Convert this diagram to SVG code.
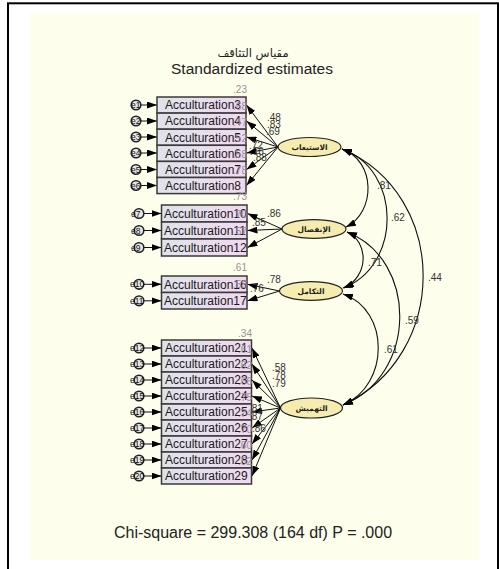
<svg xmlns="http://www.w3.org/2000/svg" width="499" height="569" viewBox="0 0 499 569">
<defs>
<linearGradient id="boxfill" x1="0" y1="0" x2="1" y2="0">
<stop offset="0" stop-color="#dfe3ea"/>
<stop offset="1" stop-color="#f1d9f0"/>
</linearGradient>
<marker id="ah" markerUnits="userSpaceOnUse" markerWidth="10" markerHeight="7" refX="10" refY="3.5" orient="auto-start-reverse">
<path d="M0,0 L10,3.5 L0,7 z" fill="#000"/>
</marker>
<style>
.box{fill:url(#boxfill);stroke:#3a3a3a;stroke-width:1.5}
.bt{font-family:"Liberation Sans",Arial,sans-serif;font-size:12px;fill:#1a1a1a}
.r2{font-family:"Liberation Sans",Arial,sans-serif;font-size:10px;fill:#9a8f9a;text-anchor:end}
.lab{font-family:"Liberation Sans",Arial,sans-serif;font-size:10px;fill:#333}
.err{fill:#e8e8e8;stroke:#222;stroke-width:1.6}
.et{font-family:"Liberation Sans",Arial,sans-serif;font-size:8.5px;fill:#111}
.lat{fill:#f7ecb0;stroke:#222;stroke-width:1.2}
.lt{font-family:"DejaVu Sans",sans-serif;font-size:7.5px;font-weight:bold;fill:#222;text-anchor:middle}
.c{fill:none;stroke:#111;stroke-width:1;marker-end:url(#ah)}
.cv{fill:none;stroke:#111;stroke-width:1.1;marker-start:url(#ah);marker-end:url(#ah)}
.ttl{font-family:"Liberation Sans",Arial,sans-serif;fill:#222;text-anchor:middle}
</style>
</defs>
<rect x="0" y="0" width="499" height="569" fill="#fff"/>
<rect x="30" y="13" width="449" height="547" fill="#fefeec"/>
<rect x="8" y="3.3" width="490" height="600" fill="none" stroke="#000" stroke-width="2"/>

<g id="titles">
<text class="ttl" x="253" y="57" style="font-family:'DejaVu Sans',sans-serif;font-size:11.5px">مقياس التثاقف</text>
<text class="ttl" x="252" y="73.5" style="font-size:15.5px">Standardized estimates</text>
<text class="ttl" x="253" y="537.5" style="font-size:16px">Chi-square = 299.308 (164 df) P = .000</text>
</g>

<g id="connectors">
<line class="c" x1="141" y1="105" x2="157" y2="105"/>
<line class="c" x1="141" y1="121" x2="157" y2="121"/>
<line class="c" x1="141" y1="137" x2="157" y2="137"/>
<line class="c" x1="141" y1="153" x2="157" y2="153"/>
<line class="c" x1="141" y1="169.5" x2="157" y2="169.5"/>
<line class="c" x1="141" y1="185.5" x2="157" y2="185.5"/>
<line class="c" x1="144" y1="213.5" x2="161.5" y2="213.5"/>
<line class="c" x1="144" y1="230.5" x2="161.5" y2="230.5"/>
<line class="c" x1="144" y1="247.5" x2="161.5" y2="247.5"/>
<line class="c" x1="144" y1="284.3" x2="161.5" y2="284.3"/>
<line class="c" x1="144" y1="300.8" x2="161.5" y2="300.8"/>
<line class="c" x1="144" y1="348" x2="161.5" y2="348"/>
<line class="c" x1="144" y1="364" x2="161.5" y2="364"/>
<line class="c" x1="144" y1="380" x2="161.5" y2="380"/>
<line class="c" x1="144" y1="396" x2="161.5" y2="396"/>
<line class="c" x1="144" y1="412" x2="161.5" y2="412"/>
<line class="c" x1="144" y1="428" x2="161.5" y2="428"/>
<line class="c" x1="144" y1="444" x2="161.5" y2="444"/>
<line class="c" x1="144" y1="460" x2="161.5" y2="460"/>
<line class="c" x1="144" y1="476" x2="161.5" y2="476"/>
<line class="c" x1="278" y1="147" x2="246.5" y2="105"/>
<line class="c" x1="278" y1="147" x2="246.5" y2="121"/>
<line class="c" x1="278" y1="147" x2="246.5" y2="137"/>
<line class="c" x1="278" y1="147" x2="246.5" y2="153"/>
<line class="c" x1="278" y1="147" x2="246.5" y2="169.5"/>
<line class="c" x1="278" y1="147" x2="246.5" y2="185.5"/>
<line class="c" x1="282" y1="229" x2="247.5" y2="213.5"/>
<line class="c" x1="282" y1="229" x2="247.5" y2="230.5"/>
<line class="c" x1="282" y1="229" x2="247.5" y2="247.5"/>
<line class="c" x1="279.5" y1="291" x2="247.5" y2="284.3"/>
<line class="c" x1="279.5" y1="291" x2="247.5" y2="300.8"/>
<line class="c" x1="280.5" y1="408" x2="252" y2="348"/>
<line class="c" x1="280.5" y1="408" x2="252" y2="364"/>
<line class="c" x1="280.5" y1="408" x2="252" y2="380"/>
<line class="c" x1="280.5" y1="408" x2="252" y2="396"/>
<line class="c" x1="280.5" y1="408" x2="252" y2="412"/>
<line class="c" x1="280.5" y1="408" x2="252" y2="428"/>
<line class="c" x1="280.5" y1="408" x2="252" y2="444"/>
<line class="c" x1="280.5" y1="408" x2="252" y2="460"/>
<line class="c" x1="280.5" y1="408" x2="252" y2="476"/>
<path class="cv" d="M342,149 C376,161 376,212 346,227"/>
<path class="cv" d="M342,149 C402,170 402,266 343,288"/>
<path class="cv" d="M342,149 C450,195 450,355 343,405"/>
<path class="cv" d="M347,232 C369,242 369,276 344,288"/>
<path class="cv" d="M347,232 C418,260 418,375 343,405"/>
<path class="cv" d="M343,294 C390,310 390,385 343,405"/>
</g>

<g id="coef-labels">
<text class="lab" x="267" y="121">.48</text>
<text class="lab" x="267" y="128">.83</text>
<text class="lab" x="266" y="135">.69</text>
<text class="lab" x="249" y="149">.72</text>
<text class="lab" x="250" y="155">.76</text>
<text class="lab" x="253" y="161">.88</text>
<text class="lab" x="267" y="217">.86</text>
<text class="lab" x="252" y="226">.85</text>
<text class="lab" x="267" y="283">.78</text>
<text class="lab" x="250" y="292">.76</text>
<text class="lab" x="272" y="371">.58</text>
<text class="lab" x="272" y="379">.78</text>
<text class="lab" x="272" y="387">.79</text>
<text class="lab" x="249" y="412">.81</text>
<text class="lab" x="249" y="420">.87</text>
<text class="lab" x="252" y="432">.86</text>
<text class="lab" x="377" y="189">.81</text>
<text class="lab" x="391" y="221">.62</text>
<text class="lab" x="428" y="281">.44</text>
<text class="lab" x="368" y="266">.71</text>
<text class="lab" x="405" y="324">.59</text>
<text class="lab" x="384" y="353">.61</text>
</g>

<g id="group-assimilation-items">
<g id="n-a3"><rect class="box" x="157" y="97" width="89" height="16.1"/><text class="r2" x="247" y="93">.23</text><text class="bt" x="165" y="109.3">Acculturation3</text></g>
<g id="n-a4"><rect class="box" x="157" y="113.1" width="89" height="16.1"/><text class="r2" x="247" y="110">.68</text><text class="bt" x="165" y="125.4">Acculturation4</text></g>
<g id="n-a5"><rect class="box" x="157" y="129.2" width="89" height="16.1"/><text class="r2" x="247" y="126">.47</text><text class="bt" x="165" y="141.5">Acculturation5</text></g>
<g id="n-a6"><rect class="box" x="157" y="145.3" width="89" height="16.1"/><text class="r2" x="247" y="142">.52</text><text class="bt" x="165" y="157.6">Acculturation6</text></g>
<g id="n-a7"><rect class="box" x="157" y="161.4" width="89" height="16.1"/><text class="r2" x="247" y="158">.58</text><text class="bt" x="165" y="173.7">Acculturation7</text></g>
<g id="n-a8"><rect class="box" x="157" y="177.5" width="89" height="16.1"/><text class="r2" x="247" y="174">.78</text><text class="bt" x="165" y="189.8">Acculturation8</text></g>
</g>
<g id="group-separation-items">
<g id="n-a10"><rect class="box" x="161.5" y="205" width="85.5" height="17"/><text class="r2" x="247" y="200">.73</text><text class="bt" x="164" y="217.8">Acculturation10</text></g>
<g id="n-a11"><rect class="box" x="161.5" y="222" width="85.5" height="17"/><text class="r2" x="247" y="218">.70</text><text class="bt" x="164" y="234.8">Acculturation11</text></g>
<g id="n-a12"><rect class="box" x="161.5" y="239" width="85.5" height="17"/><text class="r2" x="247" y="235">.57</text><text class="bt" x="164" y="251.8">Acculturation12</text></g>
</g>
<g id="group-integration-items">
<g id="n-a16"><rect class="box" x="161.5" y="276" width="85.5" height="16.5"/><text class="r2" x="247" y="271">.61</text><text class="bt" x="164" y="288.6">Acculturation16</text></g>
<g id="n-a17"><rect class="box" x="161.5" y="292.5" width="85.5" height="16.5"/><text class="r2" x="247" y="288">.58</text><text class="bt" x="164" y="305.1">Acculturation17</text></g>
</g>
<g id="group-marginalization-items">
<g id="n-a21"><rect class="box" x="161.5" y="340" width="90" height="16"/><text class="r2" x="252" y="337">.34</text><text class="bt" x="165" y="352.3">Acculturation21</text></g>
<g id="n-a22"><rect class="box" x="161.5" y="356" width="90" height="16"/><text class="r2" x="252" y="353">.61</text><text class="bt" x="165" y="368.3">Acculturation22</text></g>
<g id="n-a23"><rect class="box" x="161.5" y="372" width="90" height="16"/><text class="r2" x="252" y="369">.62</text><text class="bt" x="165" y="384.3">Acculturation23</text></g>
<g id="n-a24"><rect class="box" x="161.5" y="388" width="90" height="16"/><text class="r2" x="252" y="385">.66</text><text class="bt" x="165" y="400.3">Acculturation24</text></g>
<g id="n-a25"><rect class="box" x="161.5" y="404" width="90" height="16"/><text class="r2" x="252" y="401">.75</text><text class="bt" x="165" y="416.3">Acculturation25</text></g>
<g id="n-a26"><rect class="box" x="161.5" y="420" width="90" height="16"/><text class="r2" x="252" y="417">.74</text><text class="bt" x="165" y="432.3">Acculturation26</text></g>
<g id="n-a27"><rect class="box" x="161.5" y="436" width="90" height="16"/><text class="r2" x="252" y="433">.70</text><text class="bt" x="165" y="448.3">Acculturation27</text></g>
<g id="n-a28"><rect class="box" x="161.5" y="452" width="90" height="16"/><text class="r2" x="252" y="449">.60</text><text class="bt" x="165" y="464.3">Acculturation28</text></g>
<g id="n-a29"><rect class="box" x="161.5" y="468" width="90" height="16"/><text class="r2" x="252" y="465">.52</text><text class="bt" x="165" y="480.3">Acculturation29</text></g>
</g>

<g id="errors">
<g id="e1"><circle class="err" cx="136" cy="105" r="4.8"/><text class="et" x="131" y="108">e1</text></g>
<g id="e2"><circle class="err" cx="136" cy="121" r="4.8"/><text class="et" x="131" y="124">e2</text></g>
<g id="e3"><circle class="err" cx="136" cy="137" r="4.8"/><text class="et" x="131" y="140">e3</text></g>
<g id="e4"><circle class="err" cx="136" cy="153" r="4.8"/><text class="et" x="131" y="156">e4</text></g>
<g id="e5"><circle class="err" cx="136" cy="169.5" r="4.8"/><text class="et" x="131" y="172.5">e5</text></g>
<g id="e6"><circle class="err" cx="136" cy="185.5" r="4.8"/><text class="et" x="131" y="188.5">e6</text></g>
<g id="e7"><circle class="err" cx="139" cy="213.5" r="4.8"/><text class="et" x="131" y="216.5">e7</text></g>
<g id="e8"><circle class="err" cx="139" cy="230.5" r="4.8"/><text class="et" x="131" y="233.5">e8</text></g>
<g id="e9"><circle class="err" cx="139" cy="247.5" r="4.8"/><text class="et" x="131" y="250.5">e9</text></g>
<g id="e10"><circle class="err" cx="139" cy="284.3" r="4.8"/><text class="et" x="130" y="287.3">e10</text></g>
<g id="e11"><circle class="err" cx="139" cy="300.8" r="4.8"/><text class="et" x="130" y="303.8">e11</text></g>
<g id="e12"><circle class="err" cx="139" cy="348" r="4.8"/><text class="et" x="130" y="351">e12</text></g>
<g id="e13"><circle class="err" cx="139" cy="364" r="4.8"/><text class="et" x="130" y="367">e13</text></g>
<g id="e14"><circle class="err" cx="139" cy="380" r="4.8"/><text class="et" x="130" y="383">e14</text></g>
<g id="e15"><circle class="err" cx="139" cy="396" r="4.8"/><text class="et" x="130" y="399">e15</text></g>
<g id="e16"><circle class="err" cx="139" cy="412" r="4.8"/><text class="et" x="130" y="415">e16</text></g>
<g id="e17"><circle class="err" cx="139" cy="428" r="4.8"/><text class="et" x="130" y="431">e17</text></g>
<g id="e18"><circle class="err" cx="139" cy="444" r="4.8"/><text class="et" x="130" y="447">e18</text></g>
<g id="e19"><circle class="err" cx="139" cy="460" r="4.8"/><text class="et" x="130" y="463">e19</text></g>
<g id="e20"><circle class="err" cx="139" cy="476" r="4.8"/><text class="et" x="130" y="479">e20</text></g>
</g>

<g id="latents">
<g id="lat-assimilation"><ellipse class="lat" cx="309.5" cy="147" rx="31.5" ry="9.5"/><text class="lt" x="309.5" y="149.7">الاستيعاب</text></g>
<g id="lat-separation"><ellipse class="lat" cx="314" cy="229" rx="32" ry="9.3"/><text class="lt" x="314" y="231.7">الإنفصال</text></g>
<g id="lat-integration"><ellipse class="lat" cx="311" cy="291" rx="31.5" ry="9.3"/><text class="lt" x="311" y="293.7">التكامل</text></g>
<g id="lat-marginalization"><ellipse class="lat" cx="311.5" cy="408" rx="31" ry="10"/><text class="lt" x="311.5" y="410.7">التهميش</text></g>
</g>
</svg>
